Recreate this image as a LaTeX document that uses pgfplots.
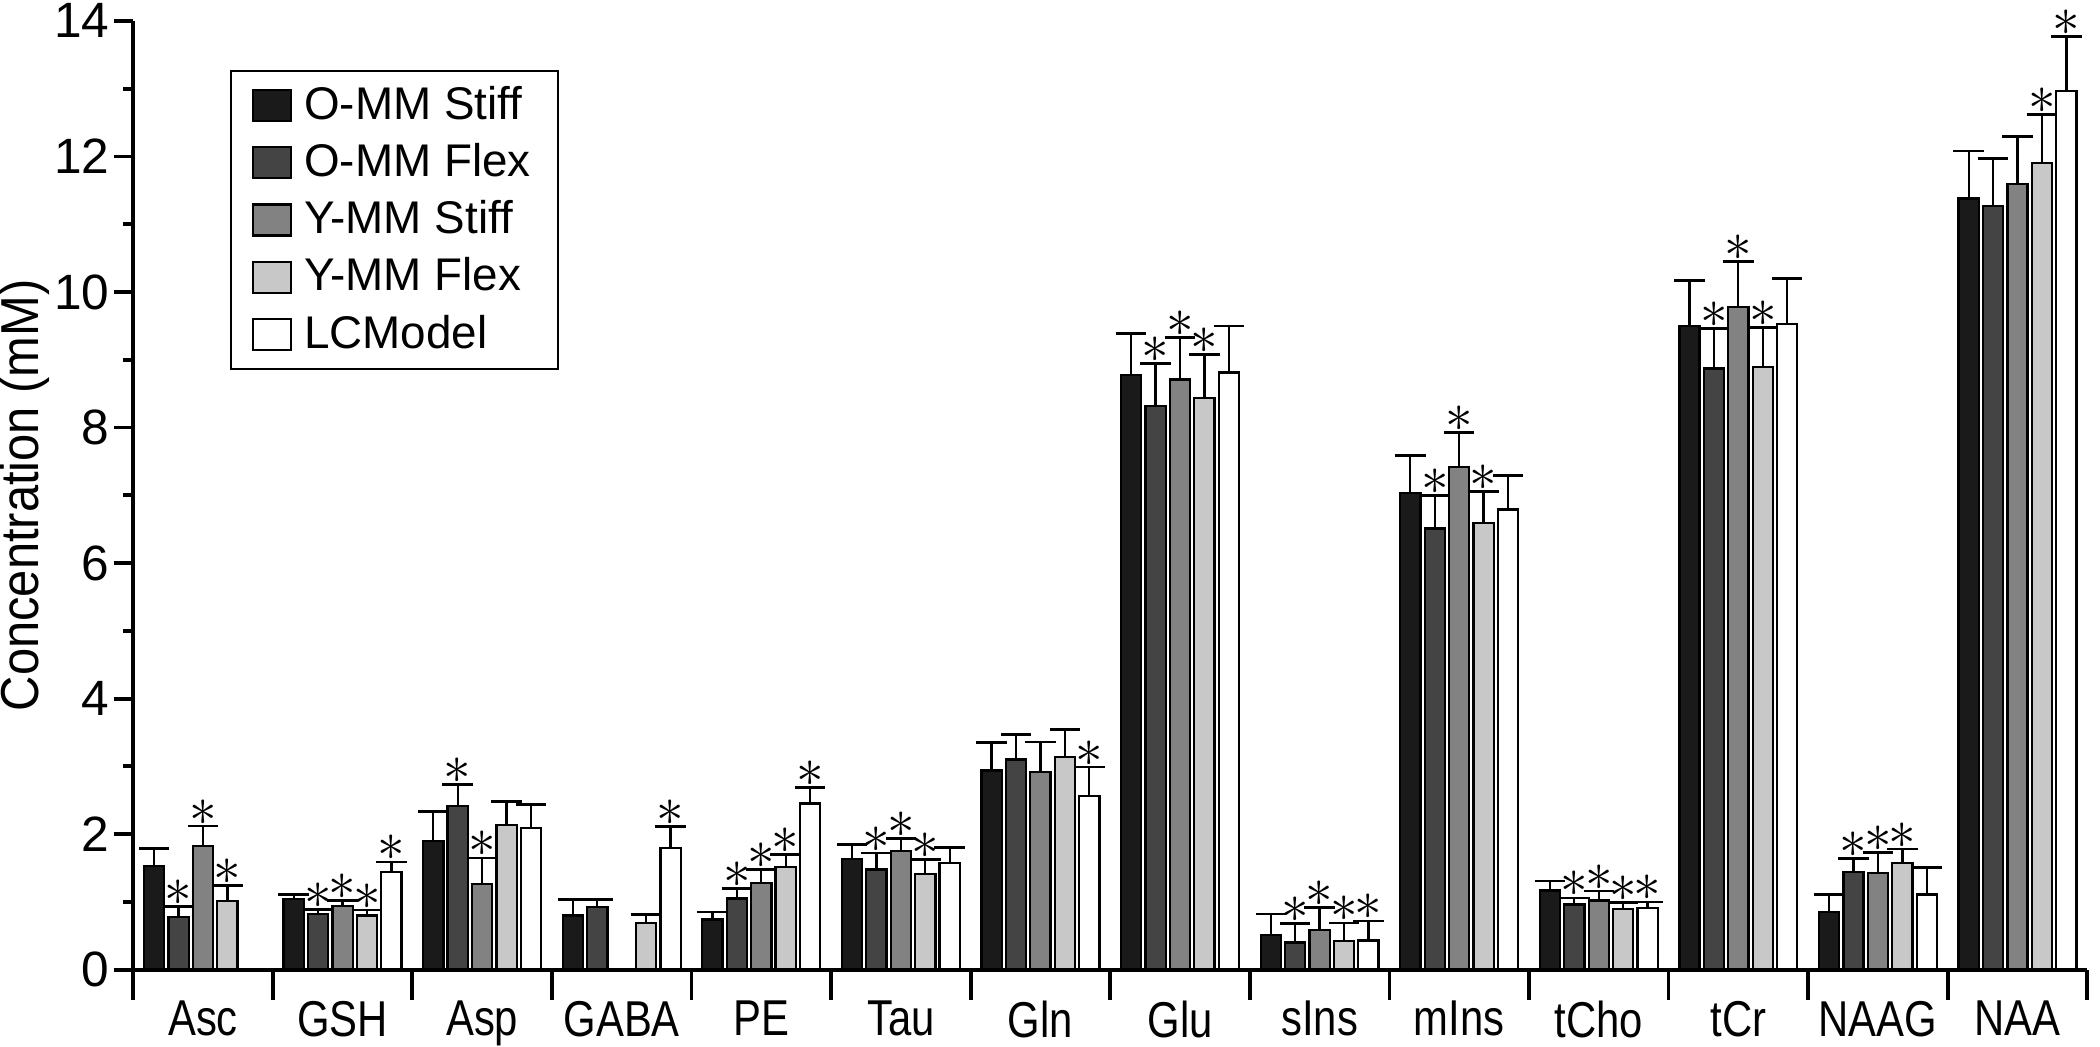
\documentclass[border=0pt]{standalone}
\usepackage{pgfplots}
\usepackage{pgfplotstable}
\pgfplotsset{compat=1.18}
\usepackage{fontspec}
\setmainfont{Liberation Sans}
\newfontfamily\condx[FakeStretch=0.83]{Liberation Sans}
\newfontfamily\condy[FakeStretch=0.915]{Liberation Sans}
\definecolor{sA}{HTML}{1A1A1A}
\definecolor{sB}{HTML}{444444}
\definecolor{sC}{HTML}{828282}
\definecolor{sD}{HTML}{C8C8C8}
\definecolor{sE}{HTML}{FFFFFF}

\pgfplotstableread{
x y e
0 1.53 0.26
1 1.04 0.07
2 1.90 0.43
3 0.80 0.24
4 0.74 0.11
5 1.63 0.22
6 2.94 0.41
7 8.78 0.61
8 0.51 0.31
9 7.03 0.56
10 1.17 0.14
11 9.50 0.67
12 0.85 0.26
13 11.38 0.70
}\tA
\pgfplotstableread{
x y e
0 0.78 0.15
1 0.82 0.07
2 2.42 0.31
3 0.92 0.12
4 1.05 0.15
5 1.48 0.24
6 3.10 0.37
7 8.32 0.62
8 0.40 0.28
9 6.51 0.49
10 0.96 0.10
11 8.87 0.59
12 1.44 0.20
13 11.27 0.70
}\tB
\pgfplotstableread{
x y e
0 1.83 0.29
1 0.94 0.08
2 1.26 0.39
4 1.28 0.20
5 1.75 0.19
6 2.92 0.44
7 8.71 0.62
8 0.59 0.33
9 7.42 0.51
10 1.02 0.14
11 9.78 0.67
12 1.43 0.30
13 11.59 0.70
}\tC
\pgfplotstableread{
x y e
0 1.01 0.23
1 0.80 0.08
2 2.13 0.35
3 0.69 0.12
4 1.52 0.18
5 1.41 0.22
6 3.14 0.40
7 8.44 0.64
8 0.42 0.27
9 6.59 0.47
10 0.90 0.09
11 8.89 0.59
12 1.57 0.21
13 11.90 0.72
}\tD
\pgfplotstableread{
x y e
1 1.44 0.15
2 2.09 0.35
3 1.80 0.31
4 2.45 0.24
5 1.57 0.23
6 2.56 0.43
7 8.81 0.69
8 0.43 0.29
9 6.79 0.50
10 0.91 0.09
11 9.53 0.67
12 1.11 0.40
13 12.97 0.80
}\tE

\pgfplotsset{
  mybar/.style={
    ybar, bar width=0.145, bar shift=0, forget plot,
    draw=black, line width=0.6pt, fill=#1,
    /pgfplots/error bars/y dir=plus, /pgfplots/error bars/y explicit,
    /pgfplots/error bars/error bar style={line width=0.6pt, black},
    /pgfplots/error bars/error mark options={rotate=90, line width=0.7pt, mark size=4pt, black},
  },
  star/.style={
    ybar, bar width=0.145, bar shift=0, forget plot,
    draw=none, fill=none,
    nodes near coords={\fontsize{15}{15}\selectfont$\ast$},
    every node near coord/.append style={anchor=center, yshift=3.6pt, inner sep=0pt, text=black},
  },
  lg/.style={
    legend image code/.code={\draw[fill=#1, draw=black, line width=0.6pt] (0pt,-4.05pt) rectangle (10pt,4.05pt);}},
}

\begin{document}
\begin{tikzpicture}
\begin{axis}[
  scale only axis, width=512pt, height=248.6pt,
  xmin=-0.5, xmax=13.5, ymin=0, ymax=14,
  axis lines=left,
  axis line style={-, line width=1pt},
  ytick={0,2,...,14}, minor ytick={1,3,...,13},
  xtick={0,...,13},
  xticklabels={Asc,GSH,Asp,GABA,PE,Tau,Gln,Glu,sIns,mIns,tCho,tCr,NAAG,NAA},
  xtick style={draw=none},
  ytick style={line width=1pt, black},
  every minor tick/.append style={line width=1pt, black},
  tick align=outside,
  major tick length=5pt, minor tick length=2.6pt,
  /pgf/number format/assume math mode=true,
  yticklabel style={font=\fontsize{13}{13}\selectfont, inner sep=1pt},
  xticklabel style={font=\condx\fontsize{13.2}{13.2}\selectfont, inner sep=0pt, yshift=-3pt},
  ylabel={Concentration (mM)},
  ylabel style={font=\condy\fontsize{14}{14}\selectfont, inner sep=0pt},
  legend cell align=left,
  legend style={at={(0.0495,0.948)}, anchor=north west, draw=black, line width=0.5pt,
    font=\fontsize{12}{12}\selectfont, inner xsep=5.5pt, inner ysep=1.5pt,
    row sep=0pt, column sep=1.5pt, nodes={inner xsep=1.6pt, inner ysep=2.4pt}},
]
\addlegendimage{lg=sA}
\addlegendentry{O-MM Stiff}
\addlegendimage{lg=sB}
\addlegendentry{O-MM Flex}
\addlegendimage{lg=sC}
\addlegendentry{Y-MM Stiff}
\addlegendimage{lg=sD}
\addlegendentry{Y-MM Flex}
\addlegendimage{lg=sE}
\addlegendentry{LCModel}

\addplot[mybar=sA] table[x expr=\thisrow{x}-0.35, y=y, y error=e]{\tA};
\addplot[mybar=sB] table[x expr=\thisrow{x}-0.175, y=y, y error=e]{\tB};
\addplot[mybar=sC] table[x expr=\thisrow{x}, y=y, y error=e]{\tC};
\addplot[mybar=sD] table[x expr=\thisrow{x}+0.175, y=y, y error=e]{\tD};
\addplot[mybar=sE] table[x expr=\thisrow{x}+0.35, y=y, y error=e]{\tE};

\addplot[star] coordinates {(-0.175,0.93) (0.825,0.89) (1.825,2.73) (3.825,1.20) (4.825,1.72) (6.825,8.94) (7.825,0.68) (8.825,7.00) (9.825,1.06) (10.825,9.46) (11.825,1.64)};
\addplot[star] coordinates {(0,2.12) (1,1.02) (2,1.65) (4,1.48) (5,1.94) (7,9.33) (8,0.92) (9,7.93) (10,1.16) (11,10.45) (12,1.73)};
\addplot[star] coordinates {(0.175,1.24) (1.175,0.88) (4.175,1.70) (5.175,1.63) (7.175,9.08) (8.175,0.69) (9.175,7.06) (10.175,0.99) (11.175,9.48) (12.175,1.78) (13.175,12.62)};
\addplot[star] coordinates {(1.35,1.59) (3.35,2.11) (4.35,2.69) (6.35,2.99) (8.35,0.72) (10.35,1.00) (13.35,13.77)};
\end{axis}

\begin{axis}[
  scale only axis, width=512pt, height=248.6pt,
  xmin=-0.5, xmax=13.5, ymin=0, ymax=14,
  axis x line=bottom, hide y axis,
  x axis line style={-, line width=1pt},
  xtick={-0.5,0.5,1.5,2.5,3.5,4.5,5.5,6.5,7.5,8.5,9.5,10.5,11.5,12.5,13.5},
  xticklabels={},
  tick align=outside, major tick length=8pt,
  xtick style={line width=1pt, black},
]
\end{axis}
\end{tikzpicture}
\end{document}
